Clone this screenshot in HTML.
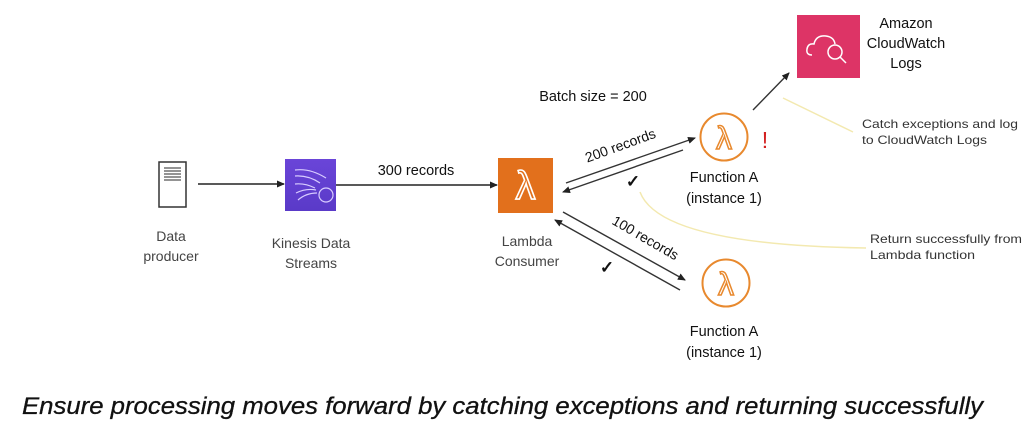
<!DOCTYPE html>
<html><head><meta charset="utf-8"><style>
html,body{margin:0;padding:0;background:#fff;}
svg{display:block;}
text{font-family:"Liberation Sans",sans-serif;}
</style></head><body>
<svg width="1036" height="435" viewBox="0 0 1036 435" xmlns="http://www.w3.org/2000/svg">
<defs>
<marker id="ah" markerWidth="8" markerHeight="8" refX="7" refY="4" orient="auto" markerUnits="userSpaceOnUse">
<path d="M0,0.5 L8,4 L0,7.5 z" fill="#222"/></marker>
<linearGradient id="kg" x1="0" y1="0" x2="0" y2="1"><stop offset="0" stop-color="#6a45d8"/><stop offset="1" stop-color="#5a3ac8"/></linearGradient>
</defs>

<rect x="159" y="162" width="27" height="45" fill="#fff" stroke="#333" stroke-width="1.5"/>
<g stroke="#555" stroke-width="1.2"><line x1="164" y1="168" x2="181" y2="168"/><line x1="164" y1="171" x2="181" y2="171"/><line x1="164" y1="174" x2="181" y2="174"/><line x1="164" y1="177" x2="181" y2="177"/><line x1="164" y1="180" x2="181" y2="180"/></g>
<text x="171" y="241" font-size="14" fill="#444" text-anchor="middle">Data</text>
<text x="171" y="261" font-size="14" fill="#444" text-anchor="middle">producer</text>

<line x1="198" y1="184" x2="284" y2="184" stroke="#222" stroke-width="1.4" marker-end="url(#ah)"/>

<rect x="285" y="159" width="51" height="52" fill="url(#kg)"/>
<g stroke="#d8ccff" stroke-width="1.2" fill="none">
<path d="M295,170 Q310,168 326,178"/><path d="M295,176 Q308,175 320,183"/><path d="M295,184 Q305,183 315,188"/><path d="M296,193 Q306,188 316,190"/><path d="M298,200 Q306,193 317,193"/>
<circle cx="326" cy="195" r="7"/></g>
<text x="311" y="248" font-size="14" fill="#444" text-anchor="middle">Kinesis Data</text>
<text x="311" y="268" font-size="14" fill="#444" text-anchor="middle">Streams</text>

<line x1="336" y1="185" x2="497" y2="185" stroke="#222" stroke-width="1.4" marker-end="url(#ah)"/>
<text x="416" y="175" font-size="14.5" fill="#111" text-anchor="middle">300 records</text>

<rect x="498" y="158" width="55" height="55" fill="#e2701c"/>
<text x="525.5" y="199" font-size="40" fill="none" stroke="#fff" stroke-width="1.6" text-anchor="middle" font-family="DejaVu Sans">λ</text>
<text x="527" y="246" font-size="14" fill="#444" text-anchor="middle">Lambda</text>
<text x="527" y="266" font-size="14" fill="#444" text-anchor="middle">Consumer</text>

<text x="593" y="101" font-size="14.5" fill="#111" text-anchor="middle">Batch size = 200</text>

<line x1="566" y1="183" x2="695" y2="138" stroke="#333" stroke-width="1.4" marker-end="url(#ah)"/>
<line x1="683" y1="150" x2="563" y2="192" stroke="#333" stroke-width="1.4" marker-end="url(#ah)"/>
<text transform="translate(622,150) rotate(-20)" font-size="14" fill="#111" text-anchor="middle">200 records</text>
<text x="633" y="187" font-size="17" font-weight="bold" fill="#111" text-anchor="middle" font-family="DejaVu Sans">✓</text>

<line x1="563" y1="212" x2="685" y2="280" stroke="#333" stroke-width="1.4" marker-end="url(#ah)"/>
<line x1="680" y1="290" x2="555" y2="220" stroke="#333" stroke-width="1.4" marker-end="url(#ah)"/>
<text transform="translate(643,242) rotate(30)" font-size="14" fill="#111" text-anchor="middle">100 records</text>
<text x="607" y="273" font-size="17" font-weight="bold" fill="#111" text-anchor="middle" font-family="DejaVu Sans">✓</text>

<circle cx="724" cy="137" r="23.5" fill="none" stroke="#e8892e" stroke-width="2"/>
<text x="724" y="149" font-size="32" fill="none" stroke="#e8892e" stroke-width="1.5" text-anchor="middle" font-family="DejaVu Sans">λ</text>
<text x="765" y="148" font-size="23" fill="#d32020" text-anchor="middle">!</text>
<text x="724" y="182" font-size="14.5" fill="#111" text-anchor="middle">Function A</text>
<text x="724" y="203" font-size="14.5" fill="#111" text-anchor="middle">(instance 1)</text>

<circle cx="726" cy="283" r="23.5" fill="none" stroke="#e8892e" stroke-width="2"/>
<text x="726" y="295" font-size="32" fill="none" stroke="#e8892e" stroke-width="1.5" text-anchor="middle" font-family="DejaVu Sans">λ</text>
<text x="724" y="336" font-size="14.5" fill="#111" text-anchor="middle">Function A</text>
<text x="724" y="357" font-size="14.5" fill="#111" text-anchor="middle">(instance 1)</text>

<line x1="753" y1="110" x2="789" y2="73" stroke="#333" stroke-width="1.4" marker-end="url(#ah)"/>
<rect x="797" y="15" width="63" height="63" fill="#dd3466"/>
<g fill="none" stroke="#fff" stroke-width="1.5">
<path d="M812,55 Q806,55 807,49 Q808,43 814,44 Q816,35 826,36 Q834,37 835,44"/>
<circle cx="835" cy="52" r="7"/><line x1="840" y1="57" x2="846" y2="63"/></g>
<text x="906" y="28" font-size="14.5" fill="#111" text-anchor="middle">Amazon</text>
<text x="906" y="48" font-size="14.5" fill="#111" text-anchor="middle">CloudWatch</text>
<text x="906" y="68" font-size="14.5" fill="#111" text-anchor="middle">Logs</text>

<line x1="783" y1="98" x2="853" y2="132" stroke="#f3e9b0" stroke-width="1.5"/>
<path d="M640,192 Q660,245 866,248" fill="none" stroke="#f3e9b0" stroke-width="1.5"/>
<text x="862" y="128" font-size="12" fill="#333" textLength="156" lengthAdjust="spacingAndGlyphs">Catch exceptions and log</text>
<text x="862" y="144" font-size="12" fill="#333" textLength="125" lengthAdjust="spacingAndGlyphs">to CloudWatch Logs</text>
<text x="870" y="243" font-size="12" fill="#333" textLength="152" lengthAdjust="spacingAndGlyphs">Return successfully from</text>
<text x="870" y="259" font-size="12" fill="#333" textLength="105" lengthAdjust="spacingAndGlyphs">Lambda function</text>

<text x="22" y="414" font-size="24" font-style="italic" fill="#111" stroke="#111" stroke-width="0.3" textLength="961" lengthAdjust="spacingAndGlyphs">Ensure processing moves forward by catching exceptions and returning successfully</text>
</svg>
</body></html>
